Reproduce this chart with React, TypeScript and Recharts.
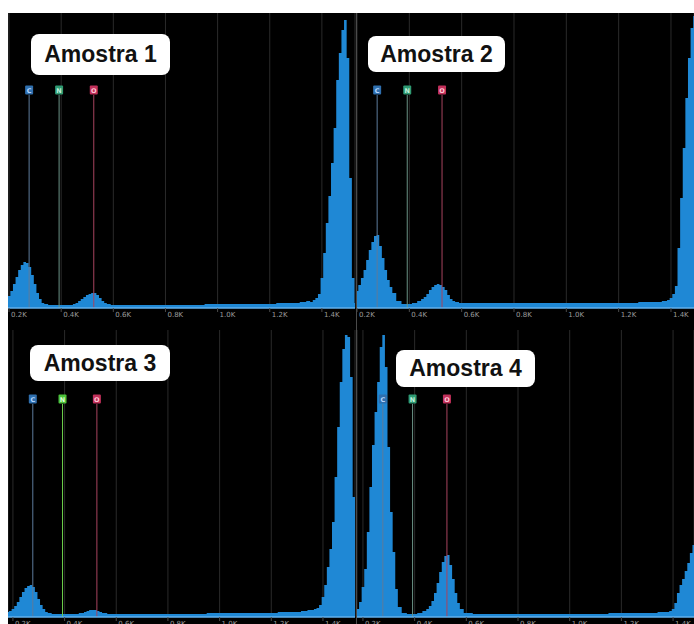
import { AreaChart, Area, XAxis, YAxis, CartesianGrid, ReferenceLine, ReferenceDot } from "recharts";

// energy bins (K units as on the axis)
const energyK = [
  0.17, 0.18, 0.19, 0.2, 0.21, 0.22, 0.23, 0.24, 0.25, 0.26, 0.27, 0.28, 0.29, 0.3, 0.31, 0.32, 0.33, 0.34,
  0.36, 0.38, 0.4, 0.42, 0.44,
  0.45, 0.46, 0.47, 0.48, 0.49, 0.5, 0.51, 0.52, 0.53, 0.54, 0.55, 0.56, 0.57, 0.58,
  0.6, 0.65, 0.7, 0.8, 0.9, 1.0, 1.1, 1.2, 1.25, 1.3, 1.33, 1.35,
  1.36, 1.37, 1.38, 1.39, 1.4, 1.41, 1.42, 1.43, 1.44, 1.45, 1.46, 1.47, 1.48, 1.49, 1.5, 1.51, 1.52, 1.53, 1.54,
];

const amostra1 = [
  6, 7, 9, 12, 17, 24, 31, 38, 43, 46, 45, 41, 33, 24, 15, 9, 5, 4,
  3, 3, 3, 3, 3,
  4, 5, 7, 9, 11, 13, 14, 15, 15, 13, 10, 7, 5, 4,
  3, 3, 3, 3, 3, 4, 4, 4, 5, 5, 6, 7,
  6, 8, 10, 14, 30, 55, 85, 112, 145, 180, 228, 255, 278, 288, 250, 130, 30, 5, 3,
];

const amostra2 = [
  10, 12, 14, 17, 23, 30, 38, 48, 58, 66, 72, 73, 62, 50, 38, 28, 21, 15,
  7, 4, 4, 5, 7,
  9, 11, 14, 18, 21, 23, 24, 23, 21, 18, 13, 9, 7, 6,
  5, 5, 5, 5, 5, 5, 5, 5, 5, 6, 6, 6,
  6, 7, 7, 8, 10, 14, 22, 60, 110, 160, 210, 250, 280, 292, 295, 290, 250, 150, 50,
];

const amostra3 = [
  4, 5, 6, 8, 11, 15, 20, 25, 29, 31, 32, 30, 25, 18, 12, 8, 5, 4,
  3, 3, 3, 3, 3,
  3, 4, 4, 5, 6, 7, 7, 7, 6, 5, 4, 4, 3, 3,
  3, 3, 3, 3, 3, 4, 4, 4, 5, 5, 6, 7,
  7, 8, 9, 12, 20, 32, 50, 68, 95, 140, 190, 235, 268, 282, 280, 240, 120, 20, 5,
];

const amostra4 = [
  5, 8, 15, 30, 48, 85, 130, 172, 205, 235, 270, 282, 250, 170, 105, 65, 28, 10,
  4, 3, 3, 4, 6,
  8, 11, 16, 24, 34, 45, 55, 61, 62, 52, 38, 24, 14, 8,
  4, 3, 3, 3, 3, 3, 3, 4, 4, 4, 4, 5,
  5, 5, 5, 6, 8, 14, 24, 32, 38, 46, 54, 64, 72, 80, 90, 95, 95, 90, 80,
];

const tickValues = [0.2, 0.4, 0.6, 0.8, 1.0, 1.2, 1.4];
const elementNames = ["C", "N", "O"];
const elementEnergies = [0.277, 0.392, 0.525];
const sampleTitles = ["Amostra 1", "Amostra 2", "Amostra 3", "Amostra 4"];

const MARKER = 218;
const BAR = "#1f88d5";

const elementStyle: Record<string, { box: string; text: string; line: string }> = {
  C: { box: "#2f6fae", text: "#b8d8ff", line: "#5d7b9c" },
  N: { box: "#2e9a72", text: "#c0f0dc", line: "#6a9386" },
  O: { box: "#c2305a", text: "#ffc8d6", line: "#a8445f" },
};
const brightN = { box: "#4cc23a", text: "#dfffd6", line: "#6ccf4c" };

const panels = [
  { counts: amostra1, left: 8, top: 13, width: 348, height: 314, axisH: 19, right: 1, domain: [0.196, 1.527], yMax: 295, title: { left: 31, top: 34, width: 139, height: 41 } },
  { counts: amostra2, left: 357, top: 13, width: 337, height: 314, axisH: 19, right: 0, domain: [0.2, 1.488], yMax: 295, title: { left: 368, top: 36, width: 137, height: 36 } },
  { counts: amostra3, left: 8, top: 330, width: 348, height: 299, axisH: 12, right: 1, domain: [0.181, 1.524], yMax: 287, title: { left: 30, top: 345, width: 140, height: 36 } },
  { counts: amostra4, left: 357, top: 330, width: 337, height: 299, axisH: 12, right: 0, domain: [0.177, 1.481], yMax: 287, title: { left: 396, top: 350, width: 139, height: 37 } },
];

const Tick = (props: any) => {
  const { x, y, payload } = props;
  return (
    <g>
      <line x1={x} x2={x} y1={y} y2={y + 4} stroke="#4a4a4a" />
      <text x={x + 2} y={y + 9} fontSize={7} fill="#9c9c9c" fontFamily="DejaVu Sans">
        {payload.value.toFixed(1)}K
      </text>
    </g>
  );
};

const markerShape = (name: string, style: { box: string; text: string }) => (p: any) => (
  <g>
    <rect x={p.cx - 4} y={p.cy - 4.5} width={8} height={9} fill={style.box} rx={1} />
    <text x={p.cx} y={p.cy + 2.5} fontSize={6.5} fontWeight="bold" fill={style.text} textAnchor="middle" fontFamily="DejaVu Sans">
      {name}
    </text>
  </g>
);

const Spectrum = ({ panel, index }: { panel: (typeof panels)[number]; index: number }) => {
  const data = energyK.map((e, i) => ({ energy: e, counts: panel.counts[i] }));
  return (
    <div style={{ position: "absolute", left: panel.left, top: panel.top }}>
      <AreaChart width={panel.width} height={panel.height} data={data} margin={{ top: 0, right: panel.right, left: 0, bottom: 0 }}>
        <CartesianGrid horizontal={false} stroke="#2a2a2a" />
        <XAxis
          dataKey="energy"
          type="number"
          domain={panel.domain}
          allowDataOverflow
          ticks={tickValues}
          interval={0}
          height={panel.axisH}
          tickLine={false}
          tickSize={0}
          tickMargin={0}
          axisLine={{ stroke: "#62b0ec", strokeWidth: 1.5 }}
          tick={<Tick />}
        />
        <YAxis hide domain={[0, panel.yMax]} allowDataOverflow />
        <Area type="step" dataKey="counts" fill={BAR} fillOpacity={1} stroke="none" isAnimationActive={false} />
        {elementNames.map((name, i) => {
          const style = name === "N" && index === 2 ? brightN : elementStyle[name];
          return (
            <ReferenceLine
              key={"l" + name}
              segment={[
                { x: elementEnergies[i], y: 0 },
                { x: elementEnergies[i], y: MARKER - 5 },
              ]}
              stroke={style.line}
              strokeWidth={1}
            />
          );
        })}
        {elementNames.map((name, i) => {
          const style = name === "N" && index === 2 ? brightN : elementStyle[name];
          return <ReferenceDot key={"d" + name} x={elementEnergies[i]} y={MARKER} r={4} shape={markerShape(name, style)} />;
        })}
      </AreaChart>
    </div>
  );
};

export default function App() {
  return (
    <div style={{ position: "fixed", left: 0, top: 0, width: 694, height: 624, overflow: "hidden", background: "#fff" }}>
      <div style={{ position: "absolute", left: 8, top: 13, width: 686, height: 611, background: "#000" }} />
      {panels.map((p, i) => (
        <Spectrum key={i} panel={p} index={i} />
      ))}
      <div style={{ position: "absolute", left: 356, top: 13, width: 1, height: 611, background: "#4a4a4a" }} />
      {panels.map((p, i) => (
        <div
          key={"t" + i}
          style={{
            position: "absolute",
            left: p.title.left,
            top: p.title.top,
            width: p.title.width,
            height: p.title.height,
            background: "#fff",
            borderRadius: 8,
            display: "flex",
            alignItems: "center",
            justifyContent: "center",
            fontFamily: "'Liberation Sans', Arial, sans-serif",
            fontWeight: 700,
            fontSize: 23,
            color: "#111",
          }}
        >
          {sampleTitles[i]}
        </div>
      ))}
    </div>
  );
}
